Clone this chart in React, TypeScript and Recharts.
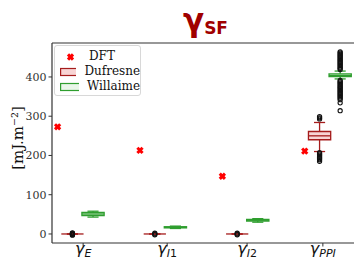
import React from "react";
import {
  ComposedChart,
  XAxis,
  YAxis,
  Scatter,
  ReferenceArea,
  ReferenceLine,
  Legend,
} from "recharts";

// subscripts of the four gamma categories
const CATEGORIES = ["E", "I1", "I2", "PPI"];
const TICK_POS = [0.13, 1.15, 2.12, 3.04];
const Y_TICKS = [0, 100, 200, 300, 400];

const DFT = [273, 213, 147, 211];

// [whiskerLow, q1, median, q3, whiskerHigh]
const DUFRESNE_STATS = [
  [0, 0, 0, 0, 0],
  [0, 0, 0, 0, 0],
  [0, 0, 0, 0, 0],
  [210, 240, 250, 261, 284],
];
const WILLAIME_STATS = [
  [43, 47, 51, 55, 58],
  [14, 15.5, 17, 18.5, 20],
  [30, 33, 35, 37, 39],
  [395, 401, 404, 408, 415],
];

const DUFRESNE_OUTLIERS = [
  [-3, -1.5, 0, 1.5, 3],
  [-2, 0, 2],
  [-2, 0, 2],
  [299, 296, 293, 207, 204, 201, 198, 195, 192, 189, 185],
];
const WILLAIME_OUTLIERS = [
  [],
  [],
  [],
  [
    464, 461, 458, 455, 452, 449, 446, 443, 440, 437, 434, 431, 428, 425, 422, 419,
    391, 388, 385, 382, 379, 376, 373, 370, 367, 364, 361, 358, 355, 352, 349, 346,
    342, 334, 314,
  ],
];

const X_MIN = -0.248;
const X_MAX = 3.418;
const Y_MIN = -23;
const Y_MAX = 486.5;

const DFT_OFFSET = -0.18;
const WILLAIME_OFFSET = 0.25;
const BOX_W = 0.27;

const RED = "#ff0000";
const DUF_EDGE = "#a51c1c";
const DUF_FILL = "#f8d4d4";
const WIL_EDGE = "#2f9e2f";
const WIL_FILL = "#e9f6e9";
const SERIF = "'DejaVu Serif', serif";

const dftData = DFT.map((y, i) => ({ x: i + DFT_OFFSET, y }));
const outlierData = [
  ...DUFRESNE_OUTLIERS.flatMap((vals, i) => vals.map((y) => ({ x: i, y }))),
  ...WILLAIME_OUTLIERS.flatMap((vals, i) => vals.map((y) => ({ x: i + WILLAIME_OFFSET, y }))),
];

const boxes = [
  ...DUFRESNE_STATS.map((s, i) => ({ s, pos: i, edge: DUF_EDGE, fill: DUF_FILL })),
  ...WILLAIME_STATS.map((s, i) => ({ s, pos: i + WILLAIME_OFFSET, edge: WIL_EDGE, fill: WIL_FILL })),
];

const XMarker = (p: any) => {
  const { cx, cy } = p;
  if (cx == null || cy == null) return null;
  const d = 2.6;
  return (
    <g stroke={RED} strokeWidth={3}>
      <line x1={cx - d} y1={cy - d} x2={cx + d} y2={cy + d} />
      <line x1={cx - d} y1={cy + d} x2={cx + d} y2={cy - d} />
    </g>
  );
};

const Flier = (p: any) => {
  const { cx, cy } = p;
  if (cx == null || cy == null) return null;
  return <circle cx={cx} cy={cy} r={2.1} fill="none" stroke="#111" strokeWidth={1.1} />;
};

const XTick = (props: any) => {
  const { x, y, payload } = props;
  const idx = TICK_POS.indexOf(payload.value);
  const sub = CATEGORIES[idx] ?? "";
  return (
    <text x={x} y={y + 5} textAnchor="middle" fontFamily="'DejaVu Sans', sans-serif" fill="#111">
      <tspan fontSize={16} fontStyle="italic">γ</tspan>
      {sub.split("").map((ch, k) => (
        <tspan
          key={k}
          fontSize={11}
          fontStyle={/[0-9]/.test(ch) ? "normal" : "italic"}
          dy={k === 0 ? 3 : 0}
        >
          {ch}
        </tspan>
      ))}
    </text>
  );
};

const YLabel = (props: any) => {
  const { viewBox } = props;
  const cx = 18;
  const cy = viewBox.y + viewBox.height / 2 - 5;
  return (
    <text
      x={cx}
      y={cy}
      transform={`rotate(-90 ${cx} ${cy})`}
      textAnchor="middle"
      dominantBaseline="central"
      fontFamily={SERIF}
      fontSize={15}
      fill="#111"
    >
      [mJ.m⁻²]
    </text>
  );
};

const LegendBox = () => (
  <div
    style={{
      width: 87,
      height: 51,
      boxSizing: "border-box",
      border: "1px solid #d8d8d8",
      borderRadius: 3,
      background: "rgba(255,255,255,0.85)",
      fontFamily: SERIF,
      fontSize: 12,
      color: "#111",
      padding: "3px 0 0 5px",
      lineHeight: "15px",
    }}
  >
    <div style={{ display: "flex", alignItems: "center" }}>
      <svg width={21} height={10} style={{ marginRight: 8 }}>
        <g stroke={RED} strokeWidth={3}>
          <line x1={8} y1={2.4} x2={13} y2={7.6} />
          <line x1={8} y1={7.6} x2={13} y2={2.4} />
        </g>
      </svg>
      DFT
    </div>
    <div style={{ display: "flex", alignItems: "center" }}>
      <svg width={21} height={10} style={{ marginRight: 8 }}>
        <rect x={0.6} y={1.5} width={19.8} height={7} fill={DUF_FILL} stroke={DUF_EDGE} strokeWidth={1.2} />
      </svg>
      Dufresne
    </div>
    <div style={{ display: "flex", alignItems: "center" }}>
      <svg width={21} height={10} style={{ marginRight: 8 }}>
        <rect x={0.6} y={1.5} width={19.8} height={7} fill={WIL_FILL} stroke={WIL_EDGE} strokeWidth={1.2} />
      </svg>
      Willaime
    </div>
  </div>
);

export default function App() {
  return (
    <div style={{ position: "absolute", left: 0, top: 0, width: 354, height: 260, background: "#fff" }}>
      <div
        style={{
          position: "absolute",
          left: 183,
          top: 1,
          fontFamily: "'DejaVu Sans', sans-serif",
          fontWeight: "bold",
          color: "#a00000",
          whiteSpace: "nowrap",
          lineHeight: "38px",
        }}
      >
        <span style={{ fontSize: 31 }}>γ</span>
        <span style={{ fontSize: 17, position: "relative", top: 3 }}>SF</span>
      </div>
      <ComposedChart
        width={354}
        height={260}
        margin={{ top: 43, right: 0, bottom: 0, left: 0 }}
      >
        <XAxis
          type="number"
          dataKey="x"
          domain={[X_MIN, X_MAX]}
          ticks={TICK_POS}
          allowDataOverflow
          height={17}
          tick={<XTick />}
          tickSize={3.5}
          tickLine={{ stroke: "#333" }}
          axisLine={{ stroke: "#333", strokeWidth: 1.2 }}
          interval={0}
        />
        <YAxis
          type="number"
          dataKey="y"
          domain={[Y_MIN, Y_MAX]}
          ticks={Y_TICKS}
          allowDataOverflow
          width={52}
          tickSize={3.5}
          tickMargin={2}
          tick={{ fontSize: 11, fill: "#333", fontFamily: SERIF }}
          tickLine={{ stroke: "#333" }}
          axisLine={{ stroke: "#333", strokeWidth: 1.2 }}
          label={<YLabel />}
        />
        <ReferenceLine y={Y_MAX} stroke="#333" strokeWidth={1.2} />
        {boxes.map((b, k) =>
          b.s[3] > b.s[1] ? (
            <ReferenceArea
              key={`a${k}`}
              x1={b.pos - BOX_W / 2}
              x2={b.pos + BOX_W / 2}
              y1={b.s[1]}
              y2={b.s[3]}
              fill={b.fill}
              fillOpacity={1}
              stroke={b.edge}
              strokeWidth={1.3}
            />
          ) : null
        )}
        {boxes.flatMap((b, k) => [
          <ReferenceLine
            key={`wl${k}`}
            segment={[{ x: b.pos, y: b.s[0] }, { x: b.pos, y: b.s[1] }]}
            stroke={b.edge}
            strokeWidth={1.3}
          />,
          <ReferenceLine
            key={`wh${k}`}
            segment={[{ x: b.pos, y: b.s[3] }, { x: b.pos, y: b.s[4] }]}
            stroke={b.edge}
            strokeWidth={1.3}
          />,
          <ReferenceLine
            key={`cl${k}`}
            segment={[{ x: b.pos - BOX_W / 4, y: b.s[0] }, { x: b.pos + BOX_W / 4, y: b.s[0] }]}
            stroke={b.edge}
            strokeWidth={1.3}
          />,
          <ReferenceLine
            key={`ch${k}`}
            segment={[{ x: b.pos - BOX_W / 4, y: b.s[4] }, { x: b.pos + BOX_W / 4, y: b.s[4] }]}
            stroke={b.edge}
            strokeWidth={1.3}
          />,
          <ReferenceLine
            key={`m${k}`}
            segment={[{ x: b.pos - BOX_W / 2, y: b.s[2] }, { x: b.pos + BOX_W / 2, y: b.s[2] }]}
            stroke={b.edge}
            strokeWidth={1.3}
          />,
        ])}
        <Scatter name="fliers" data={outlierData} shape={<Flier />} isAnimationActive={false} />
        <Scatter name="DFT" data={dftData} shape={<XMarker />} isAnimationActive={false} />
        <Legend
          layout="vertical"
          align="center"
          verticalAlign="middle"
          wrapperStyle={{ top: 45, left: 54, width: 87, height: 51 }}
          content={() => <LegendBox />}
        />
      </ComposedChart>
    </div>
  );
}
